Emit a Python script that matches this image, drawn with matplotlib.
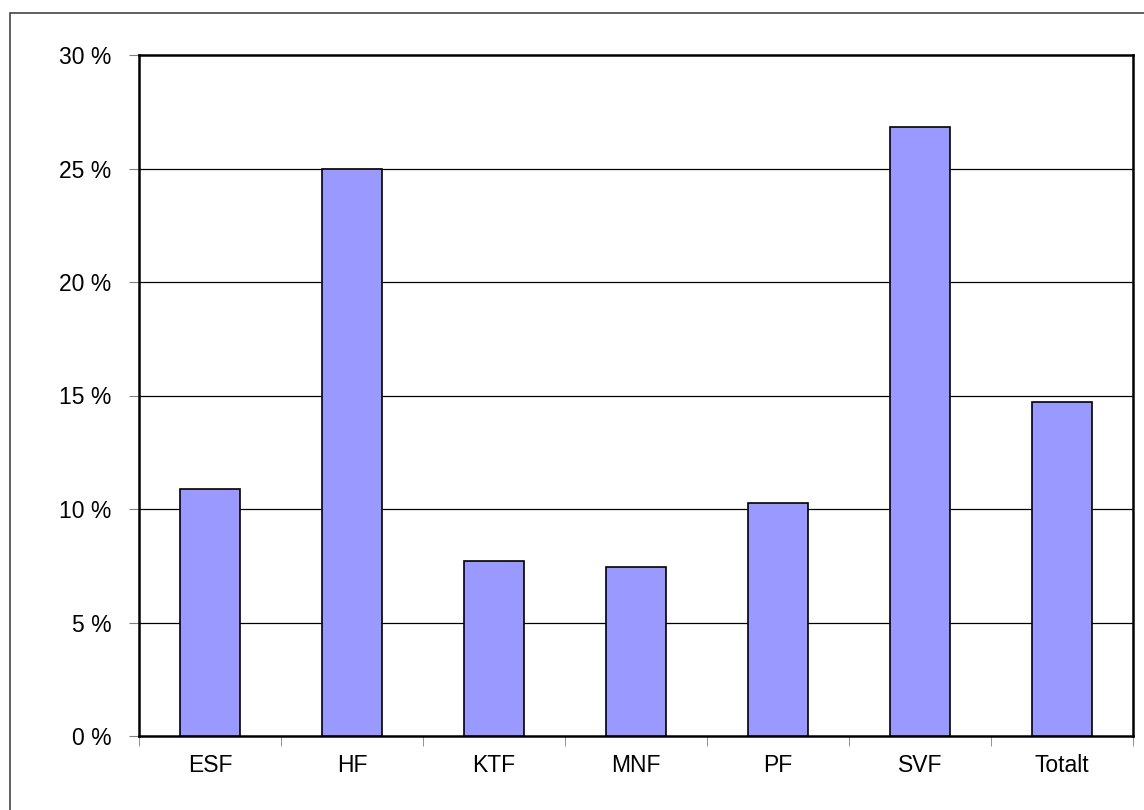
import matplotlib.pyplot as plt
from matplotlib.patches import Rectangle
from matplotlib.ticker import FixedLocator

plt.rcParams['font.family'] = ['Liberation Sans', 'DejaVu Sans']

categories = ["ESF", "HF", "KTF", "MNF", "PF", "SVF", "Totalt"]
values = [10.9, 25.0, 7.7, 7.45, 10.25, 26.85, 14.7]
yticks = [0, 5, 10, 15, 20, 25, 30]
ytick_labels = ["0 %", "5 %", "10 %", "15 %", "20 %", "25 %", "30 %"]

fig = plt.figure(figsize=(11.44, 8.1), dpi=100)
ax = fig.add_axes([139/1144, 1 - 736/810, (1133 - 139)/1144, (736 - 55)/810])

x = list(range(len(categories)))
ax.bar(x, values, width=0.42, color="#9999ff", edgecolor="black", linewidth=1.2, zorder=3)

ax.set_xlim(-0.5, len(categories) - 0.5)
ax.set_ylim(0, 30)
ax.set_yticks(yticks)
ax.set_yticklabels(ytick_labels, fontsize=16.5)
ax.set_xticks(x)
ax.set_xticklabels(categories, fontsize=16.5)
ax.tick_params(axis="x", length=0, pad=13)
ax.tick_params(axis="y", length=7, color="gray", pad=13)
ax.xaxis.set_minor_locator(FixedLocator([i + 0.5 for i in range(-1, len(categories))]))
ax.tick_params(axis="x", which="minor", length=7, color="gray", direction="out")

for y in yticks[1:-1]:
    ax.axhline(y, color="black", linewidth=0.9, zorder=1)

for s in ax.spines.values():
    s.set_linewidth(1.8)
    s.set_color("black")

fig.patches.append(Rectangle((10/1144, -0.1), 1.2, 1 - 13/810 + 0.1, transform=fig.transFigure,
                             fill=False, edgecolor="#444444", linewidth=1.2))

fig.savefig("out.png", dpi=100)
